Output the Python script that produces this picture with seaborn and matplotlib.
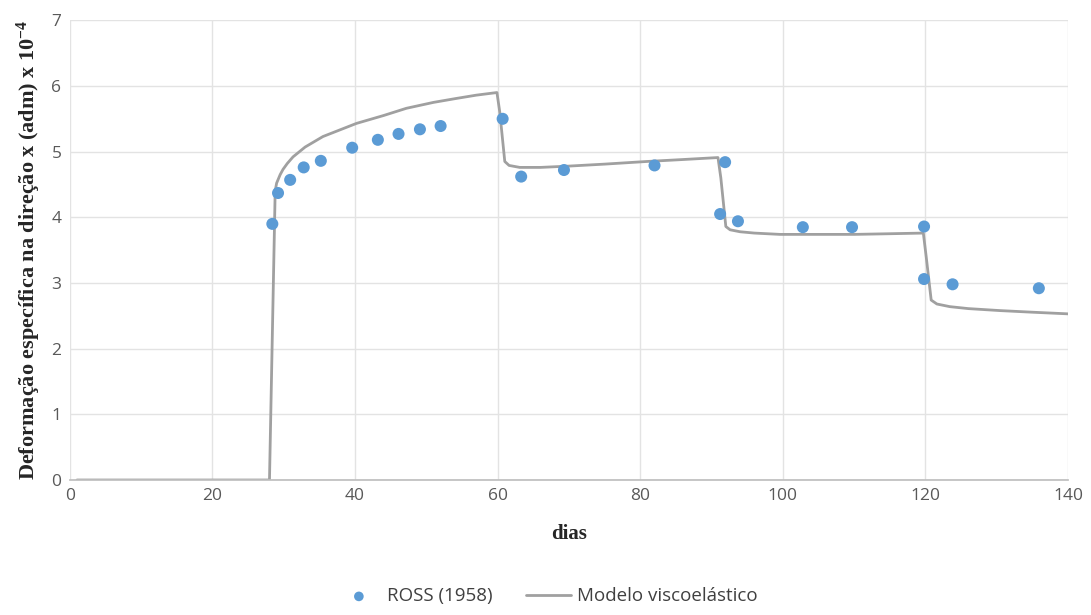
import matplotlib
matplotlib.use("Agg")
import matplotlib.pyplot as plt
import seaborn as sns
import pandas as pd

# Experimental data ROSS (1958)
ross_dias = [28.4, 29.2, 30.9, 32.8, 35.2, 39.6, 43.2, 46.1, 49.1, 52.0, 60.7, 63.3, 69.3,
             82.0, 91.2, 91.9, 93.7, 102.8, 109.7, 119.8, 119.8, 123.8, 135.9]
ross_def = [3.90, 4.37, 4.57, 4.76, 4.86, 5.06, 5.18, 5.27, 5.34, 5.39, 5.50, 4.62, 4.72,
            4.79, 4.05, 4.84, 3.94, 3.85, 3.85, 3.86, 3.06, 2.98, 2.92]

# Viscoelastic model curve
modelo_dias = [1, 10, 20, 28.0, 28.8, 29.0, 29.5, 29.9, 30.5, 31.3, 33.0, 35.5, 40.2, 44.0,
               47.2, 51.0, 54.2, 57.0, 59.9, 60.3, 61.0, 61.6, 63.1, 66.0, 70.0, 75.0, 80.9,
               86.0, 90.9, 91.3, 92.0, 92.6, 94.0, 96.0, 99.6, 105.0, 110.0, 115.0, 119.7,
               120.1, 120.8, 121.6, 123.4, 126.0, 130.4, 135.0, 140.0]
modelo_def = [0, 0, 0, 0, 4.40, 4.52, 4.65, 4.73, 4.82, 4.92, 5.07, 5.23, 5.43, 5.55,
              5.66, 5.75, 5.81, 5.86, 5.90, 5.60, 4.85, 4.79, 4.76, 4.76, 4.78, 4.81, 4.85,
              4.88, 4.91, 4.60, 3.86, 3.81, 3.78, 3.76, 3.74, 3.74, 3.74, 3.75, 3.76,
              3.40, 2.74, 2.68, 2.64, 2.61, 2.58, 2.555, 2.53]

df_ross = pd.DataFrame({"dias": ross_dias, "def": ross_def})
df_mod = pd.DataFrame({"dias": modelo_dias, "def": modelo_def})

sns.set_theme(style="white")
plt.rcParams["font.family"] = ["Open Sans", "DejaVu Sans"]
plt.rcParams["mathtext.fontset"] = "custom"
plt.rcParams["mathtext.rm"] = "Liberation Serif:bold"
plt.rcParams["mathtext.it"] = "Liberation Serif:bold"
plt.rcParams["mathtext.bf"] = "Liberation Serif:bold"

fig = plt.figure(figsize=(10.91, 6.15), dpi=100)
ax = fig.add_axes([0.064, 0.2195, 0.915, 0.7475])

sns.lineplot(data=df_mod, x="dias", y="def", ax=ax, color="#a0a0a0", lw=2.0,
             label="Modelo viscoelástico", zorder=2, sort=False)
sns.scatterplot(data=df_ross, x="dias", y="def", ax=ax, color="#5b9bd5", s=75,
                edgecolor="none", label="ROSS (1958)", zorder=3)

ax.set_xlim(0, 140)
ax.set_ylim(0, 7)
ax.set_xticks(range(0, 141, 20))
ax.set_yticks(range(0, 8))
ax.grid(True, color="#e3e3e3", lw=1)
ax.set_axisbelow(True)
for s in ["top", "right", "left"]:
    ax.spines[s].set_visible(False)
ax.spines["bottom"].set_color("#bfbfbf")
ax.tick_params(axis="both", labelsize=12.5, labelcolor="#595959", length=0, pad=6)

ax.set_xlabel("dias", family="Liberation Serif", fontweight="bold", fontsize=15, labelpad=14)
ax.set_ylabel(r"Deformação específica na direção x (adm) x 10$^{-4}$",
              family="Liberation Serif", fontweight="bold", fontsize=16, labelpad=6)

h, l = ax.get_legend_handles_labels()
order = [l.index("ROSS (1958)"), l.index("Modelo viscoelástico")]
leg = ax.legend([h[i] for i in order], [l[i] for i in order], loc="center",
                bbox_to_anchor=(0.478, -0.253), ncol=2, frameon=False, fontsize=13.5,
                handlelength=2.4, handletextpad=0.3, columnspacing=1.8, markerscale=0.8)
for t in leg.get_texts():
    t.set_color("#404040")

fig.savefig("out.png", dpi=100)
